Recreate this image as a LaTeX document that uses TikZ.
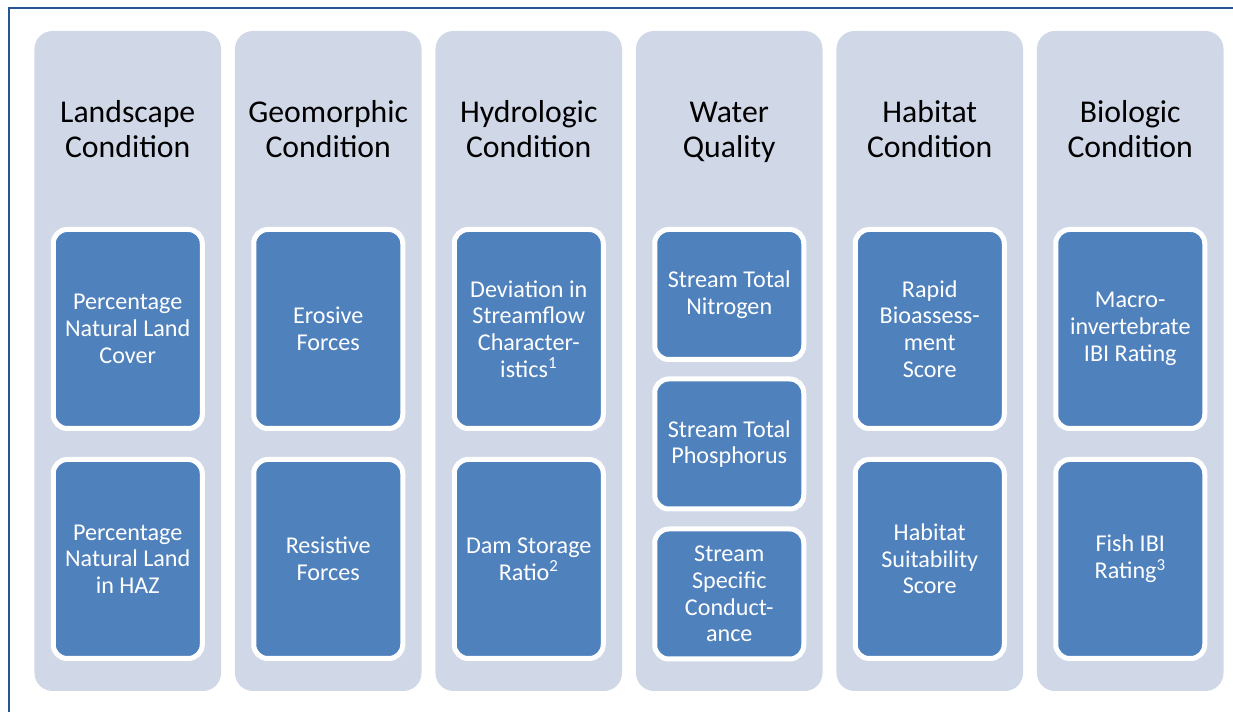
\documentclass[tikz,border=0pt]{standalone}
\usepackage{fontspec}
\setmainfont{Carlito}
\definecolor{colfill}{RGB}{208,216,232}
\definecolor{boxblue}{RGB}{79,129,189}
\definecolor{framecol}{RGB}{38,84,150}
\tikzset{
  colbox/.style={fill=colfill, draw=none, rounded corners=13.5pt,
    minimum width=139.9pt, minimum height=495pt, inner sep=0pt},
  coltitle/.style={align=center, font=\fontsize{23.8pt}{26.25pt}\selectfont, text=black, inner sep=0pt},
  itembox/.style={fill=boxblue, draw=white, line width=3.75pt, rounded corners=10.5pt,
    minimum width=111.75pt, minimum height=149.25pt, inner sep=0pt, align=center,
    text=white, font=\fontsize{18.1pt}{20pt}\selectfont},
  wqbox/.style={itembox, minimum height=97.5pt}
}
\begin{document}
\begin{tikzpicture}[x=0.75pt,y=-0.75pt]
\useasboundingbox (0,0) rectangle (1233,712);
\coordinate (fb) at (9,712);
\coordinate (fl) at (9,8);
\coordinate (fr) at (1233,8);
\draw[framecol, line width=0.9pt] (fb) -- (fl) -- (fr);

% columns
\foreach \i/\n in {0/c1,1/c2,2/c3,3/c4,4/c5,5/c6}{
  \node[colbox] (\n) at ({127.75+200.5*\i},361) {};
}
% titles
\node[coltitle] (t1) at (127.75,133) {\strut Landscape\\\strut Condition};
\node[coltitle] (t2) at (328.25,133) {\strut Geomorphic\\\strut Condition};
\node[coltitle] (t3) at (528.75,133) {\strut Hydrologic\\\strut Condition};
\node[coltitle] (t4) at (729.25,133) {\strut Water\\\strut Quality};
\node[coltitle] (t5) at (929.75,133) {\strut Habitat\\\strut Condition};
\node[coltitle] (t6) at (1130.25,133) {\strut Biologic\\\strut Condition};

% items
\node[itembox] (a1) at (127.75,329) {Percentage\\Natural Land\\Cover};
\node[itembox] (a2) at (127.75,559) {Percentage\\Natural Land\\in HAZ};
\node[itembox] (b1) at (328.25,329) {Erosive\\Forces};
\node[itembox] (b2) at (328.25,559) {Resistive\\Forces};
\node[itembox] (h1) at (528.75,329) {Deviation in\\Streamflow\\Character-\\istics\textsuperscript{1}};
\node[itembox] (h2) at (528.75,559) {Dam Storage\\Ratio\textsuperscript{2}};
\node[wqbox] (w1) at (729.25,294.5) {Stream Total\\Nitrogen};
\node[wqbox] (w2) at (729.25,444) {Stream Total\\Phosphorus};
\node[wqbox] (w3) at (729.25,594) {Stream\\Specific\\Conduct-\\ance};
\node[itembox] (r1) at (929.75,329) {Rapid\\Bioassess-\\ment\\Score};
\node[itembox] (r2) at (929.75,559) {Habitat\\Suitability\\Score};
\node[itembox] (g1) at (1130.25,329) {Macro-\\invertebrate\\IBI Rating};
\node[itembox] (g2) at (1130.25,559) {Fish IBI\\Rating\textsuperscript{3}};
\end{tikzpicture}
\end{document}
